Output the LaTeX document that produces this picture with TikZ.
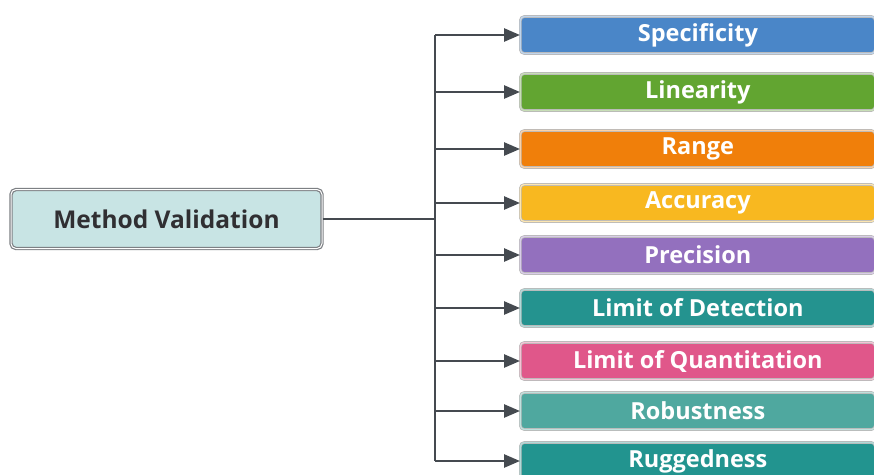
\documentclass[tikz,border=0pt]{standalone}
\usepackage{fontspec}
\setmainfont{Open Sans}
\usepackage{tikz}
\usetikzlibrary{arrows.meta}
\usepackage{xcolor}

\definecolor{cSpec}{HTML}{4A86C8}
\definecolor{cLin}{HTML}{62A531}
\definecolor{cRange}{HTML}{F07F0A}
\definecolor{cAcc}{HTML}{F8B820}
\definecolor{cPrec}{HTML}{9370BE}
\definecolor{cLod}{HTML}{24938F}
\definecolor{cLoq}{HTML}{E0578A}
\definecolor{cRob}{HTML}{4FA89F}
\definecolor{cRug}{HTML}{22948F}
\definecolor{cMain}{HTML}{C8E4E4}
\definecolor{cLine}{HTML}{454A50}

\tikzset{
 mainbox/.style={draw=cLine!70,line width=1.2pt,fill=cMain,rounded corners=5pt,
  double=white,double distance=1pt,
  minimum width=311pt,minimum height=59pt,font=\fontsize{24.5}{28}\selectfont\bfseries,
  text=black!80!cyan!40!black},
 itembox/.style={draw=black!28,line width=0.7pt,rounded corners=4pt,
  double distance=1.3pt,
  minimum width=355pt,minimum height=37pt,font=\fontsize{23.5}{27}\selectfont\bfseries,
  text=white},
 link/.style={cLine,line width=2.6pt},
 linkarrow/.style={link,-{Triangle[length=16pt,width=13pt]}}
}

\begin{document}
\begin{tikzpicture}[x=1pt,y=-1pt]
 \clip (0,0) rectangle (874,474);
 \fill[white] (0,0) rectangle (874,474);
 \node[mainbox] (mv) at (166.5,219) {Method Validation};
 \coordinate (trunk) at (435,219);
 %
 \foreach \N/\T/\C/\Y in {b1/Specificity/cSpec/35,
   b2/Linearity/cLin/92,
   b3/Range/cRange/149,
   b4/Accuracy/cAcc/203,
   b5/Precision/cPrec/255,
   b6/Limit of Detection/cLod/308,
   b7/Limit of Quantitation/cLoq/361,
   b8/Robustness/cRob/411,
   b9/Ruggedness/cRug/461}
 {
 \node[itembox,fill=\C,double=\C!35!white,anchor=west] (\N) at (520,\Y) {\T};
 \draw[linkarrow] (trunk |- \N.west) -- (\N.west);
 }
 %
 \draw[link] (mv.east) -- (trunk);
 \draw[link] (trunk |- b1.west) -- (trunk |- b9.west);
\end{tikzpicture}
\end{document}
